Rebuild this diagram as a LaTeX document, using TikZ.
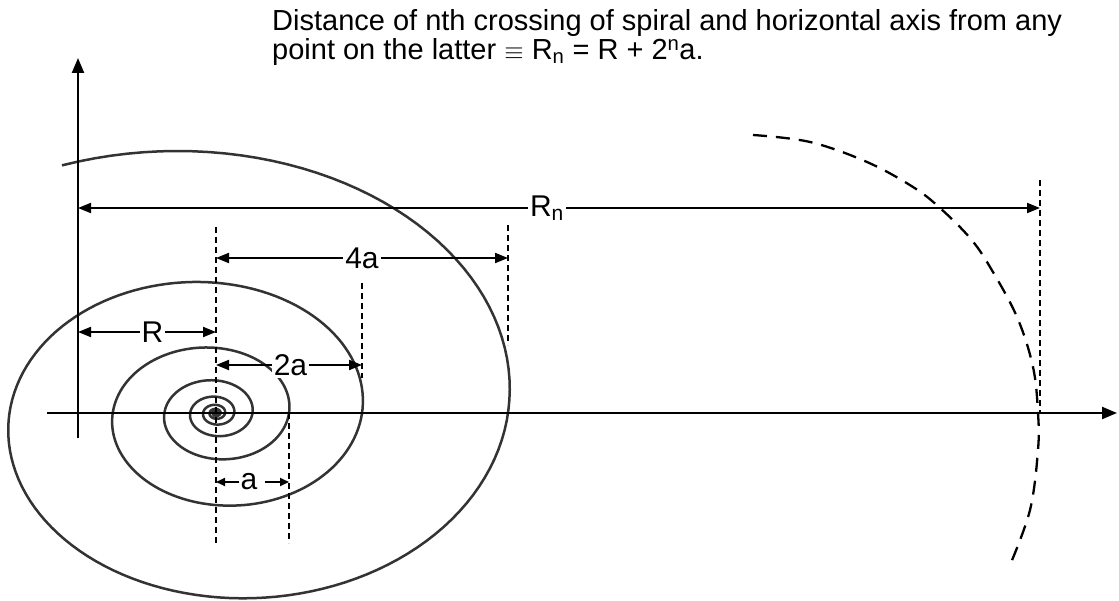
\documentclass[tikz,border=0pt]{standalone}
\usepackage{fontspec}
\setmainfont{Liberation Sans}
\usetikzlibrary{arrows.meta}
\begin{document}
\begin{tikzpicture}[x=1pt,y=-1pt,
  axis/.style={line width=2.3pt, -{Triangle[length=15pt,width=12pt]}},
  dim/.style={line width=2pt, {Triangle[length=13pt,width=10pt]}-{Triangle[length=13pt,width=10pt]}},
  halfdim/.style={line width=2pt, -{Triangle[length=9pt,width=8pt]}},
  guide/.style={line width=1.5pt, dash pattern=on 6pt off 4pt},
  bigdash/.style={line width=2.3pt, dash pattern=on 14pt off 9pt},
  spiralline/.style={line width=2.5pt, black!80},
  lbl/.style={font=\fontsize{30}{30}\selectfont, fill=white, inner sep=2pt},
  ttl/.style={font=\fontsize{29}{29}\selectfont, anchor=base west, inner sep=0pt},
]
\useasboundingbox (0,0) rectangle (1119,601);

% spiral
\draw[spiralline] plot[domain=115:-3600, samples=1400]
  ({216+292*pow(2,\x/360)*cos(\x)}, {413-0.75*292*pow(2,\x/360)*sin(\x)});

% axes
\coordinate (hax0) at (47,413);
\coordinate (hax1) at (1117,413);
\coordinate (vax0) at (78,438);
\coordinate (vax1) at (78,58);
\draw[axis] (hax0) -- (hax1);
\draw[axis] (vax0) -- (vax1);

% dashed guide lines
\coordinate (g0t) at (216,227); \coordinate (g0b) at (216,543);
\coordinate (g1t) at (289,413); \coordinate (g1b) at (289,543);
\coordinate (g2t) at (362,283); \coordinate (g2b) at (362,378);
\coordinate (g3t) at (508,225); \coordinate (g3b) at (508,345);
\coordinate (g4t) at (1040,180); \coordinate (g4b) at (1040,413);
\draw[guide] (g0t) -- (g0b);
\draw[guide] (g1t) -- (g1b);
\draw[guide] (g2t) -- (g2b);
\draw[guide] (g3t) -- (g3b);
\draw[guide] (g4t) -- (g4b);

% dashed arc
\draw[bigdash] plot[smooth, tension=0.6] coordinates {(753,135) (810,142) (867,162) (913,187) (940,208) (970,238) (990,267) (1017,317) (1033,367) (1038,413) (1038,450) (1030,510) (1010,565)};

% dimension lines
\coordinate (rn0) at (78,208);  \coordinate (rn1) at (1040,208);
\coordinate (f0) at (216,258);  \coordinate (f1) at (508,258);
\coordinate (r0) at (78,332);   \coordinate (r1) at (216,332);
\coordinate (t0) at (216,365);  \coordinate (t1) at (362,365);
\coordinate (a0) at (216,482);  \coordinate (a1) at (289,482);
\draw[dim] (rn0) -- node[lbl, pos=0.4875] (lRn) {R\textsubscript{n}} (rn1);
\draw[dim] (f0) -- node[lbl] (l4a) {4a} (f1);
\draw[dim] (r0) -- node[lbl, pos=0.54] (lR) {R} (r1);
\draw[dim] (t0) -- node[lbl, pos=0.51] (l2a) {2a} (t1);
\node[lbl, inner xsep=1pt] (la) at (249,482) {a};
\coordinate (la1) at ([xshift=6pt]la.east);
\draw[halfdim] (la.west) -- (a0);
\draw[halfdim] (la1) -- (a1);

% title
\node[ttl] (title1) at (272,31) {Distance of nth crossing of spiral and horizontal axis from any};
\node[ttl] (title2) at (272,60) {point on the latter \(\equiv\) R\textsubscript{n} = R + 2\textsuperscript{n}a.};
\end{tikzpicture}
\end{document}
